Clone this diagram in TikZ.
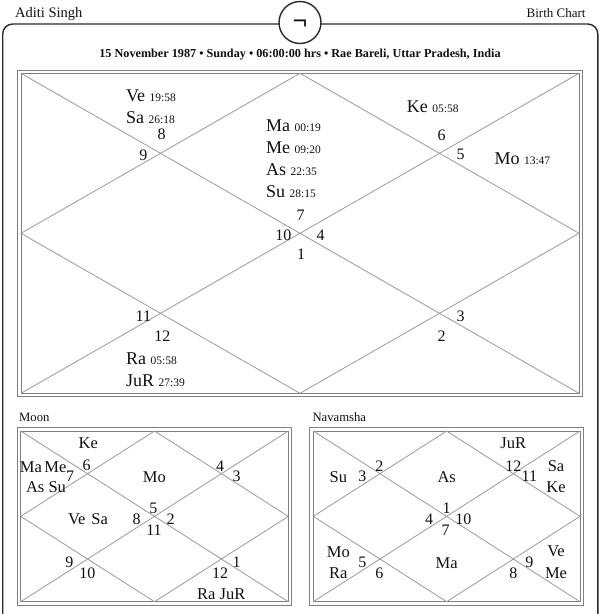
\documentclass[tikz,border=0pt]{standalone}
\usepackage{fontspec}
\setmainfont{Liberation Serif}
\definecolor{ln}{HTML}{9A9A9A}
\definecolor{bd}{HTML}{808080}
\definecolor{fr}{HTML}{2A2A2A}
\definecolor{tx}{HTML}{111111}
\newcommand{\fsz}[1]{\fontsize{#1}{#1}\selectfont}
\newcommand{\dg}[1]{{\fsz{11.5}#1}}
\newcommand{\kchart}[5]{%
  \draw[bdline] (#2-3.4,#3-3.3) rectangle (#4+3.4,#5+3.3);
  \draw[bdline] (#2,#3) rectangle (#4,#5);
  \coordinate (#1tl) at (#2,#3);
  \coordinate (#1tr) at (#4,#3);
  \coordinate (#1bl) at (#2,#5);
  \coordinate (#1br) at (#4,#5);
  \coordinate (#1t) at (0.5*#2+0.5*#4,#3);
  \coordinate (#1b) at (0.5*#2+0.5*#4,#5);
  \coordinate (#1l) at (#2,0.5*#3+0.5*#5);
  \coordinate (#1r) at (#4,0.5*#3+0.5*#5);
  \draw[chline] (#1tl) -- (#1br) (#1tr) -- (#1bl);
  \draw[chline] (#1t) -- (#1r) -- (#1b) -- (#1l) -- cycle;
}
\tikzset{
  bdline/.style={draw=bd, line width=0.9},
  chline/.style={draw=ln, line width=0.8},
  pl/.style={font=\fsz{18}, text=tx, inner sep=0, anchor=base west},
  nm/.style={font=\fsz{16}, text=tx, inner sep=0},
  sp/.style={font=\fsz{16.5}, text=tx, inner sep=0},
  lbl/.style={font=\fsz{12.7}, text=tx, inner sep=0, anchor=base west},
}
\begin{document}
\begin{tikzpicture}[x=1pt, y=-1pt]
\useasboundingbox (0,0) rectangle (600,614);
\fill[white] (0,0) rectangle (600,614);
% outer frame
\draw[fr, line width=1.4, rounded corners=10] (2.7,650) -- (2.7,24) -- (597.8,24) -- (597.8,650);
\node[circle, draw=fr, line width=1.4, fill=white, minimum size=42, inner sep=0] (logo) at (300,22.5) {};
\node[font=\bfseries\fsz{26}, text=tx, inner sep=0] (sym) at (300,25) {¬};
% header
\node[font=\fsz{14.5}, text=tx, inner sep=0, anchor=base west] (name) at (15,17.5) {Aditi Singh};
\node[font=\fsz{13}, text=tx, inner sep=0, anchor=base east] (kind) at (585.7,17.5) {Birth Chart};
\node[font=\bfseries\fsz{12.2}, text=tx, inner sep=0, anchor=base] (title) at (300,57.5) {15 November 1987 • Sunday • 06:00:00 hrs • Rae Bareli, Uttar Pradesh, India};
% main chart
\kchart{M}{21}{73.3}{579}{393.3}
\node[pl] (ve) at (126,101.7) {Ve \dg{19:58}};
\node[pl] (sa) at (126,123.3) {Sa \dg{26:18}};
\node[pl] (ma) at (266,131.5) {Ma \dg{00:19}};
\node[pl] (me) at (266,153.5) {Me \dg{09:20}};
\node[pl] (as) at (266,175.5) {As \dg{22:35}};
\node[pl] (su) at (266,197) {Su \dg{28:15}};
\node[pl] (ke) at (406.7,112.7) {Ke \dg{05:58}};
\node[pl] (mo) at (494.3,164.3) {Mo \dg{13:47}};
\node[pl] (ra) at (126,364.3) {Ra \dg{05:58}};
\node[pl] (ju) at (126,386.7) {JuR \dg{27:39}};
\node[nm] (h8) at (161.7,134) {8};
\node[nm] (h9) at (143.3,155) {9};
\node[nm] (h7) at (300.7,215) {7};
\node[nm] (h10) at (283.3,235) {10};
\node[nm] (h4) at (320.7,235) {4};
\node[nm] (h1) at (301,254.5) {1};
\node[nm] (h6) at (441.7,135) {6};
\node[nm] (h5) at (460.7,154.3) {5};
\node[nm] (h11) at (143.3,316) {11};
\node[nm] (h12) at (162.3,336) {12};
\node[nm] (h3) at (460.7,316) {3};
\node[nm] (h2) at (441.7,336) {2};
% Moon chart
\node[lbl] (moonlbl) at (19,421) {Moon};
\kchart{A}{20.7}{431}{288.3}{601.7}
\node[sp] (ake) at (88.3,443.3) {Ke};
\node[sp] (amame) at (43.2,466.7) {Ma\hspace{2.5pt}Me};
\node[nm] (a6) at (86.7,465.7) {6};
\node[nm] (a7) at (70,476) {7};
\node[sp] (aassu) at (46,487.3) {As Su};
\node[sp] (amo) at (154.3,476.7) {Mo};
\node[nm] (a4) at (220,466) {4};
\node[nm] (a3) at (236.7,476.7) {3};
\node[sp] (avesa) at (88,519.3) {Ve\hspace{6pt}Sa};
\node[nm] (a8) at (136.7,519.3) {8};
\node[nm] (a5) at (153.3,508.3) {5};
\node[nm] (a2) at (170.7,519.3) {2};
\node[nm] (a11) at (154,530.7) {11};
\node[nm] (a9) at (69.3,562.7) {9};
\node[nm] (a10) at (87.3,573.3) {10};
\node[nm] (a1) at (236.7,562.7) {1};
\node[nm] (a12) at (220,573.3) {12};
\node[sp] (araju) at (221.3,594) {Ra JuR};
% Navamsha chart
\node[lbl] (navlbl) at (312.3,421) {Navamsha};
\kchart{N}{313.3}{431}{580}{601.7}
\node[sp] (nju) at (513.3,443.3) {JuR};
\node[nm] (n12) at (513.3,466) {12};
\node[nm] (n11) at (529.3,476.7) {11};
\node[sp] (nsa) at (556,465.7) {Sa};
\node[sp] (nke) at (556,487.3) {Ke};
\node[sp] (nsu) at (338.3,476.7) {Su};
\node[nm] (n3) at (362.3,476.7) {3};
\node[nm] (n2) at (379.3,466) {2};
\node[sp] (nas) at (446.7,476.7) {As};
\node[nm] (n1) at (446.7,508.3) {1};
\node[nm] (n4) at (429,519.3) {4};
\node[nm] (n10) at (463.3,519.3) {10};
\node[nm] (n7) at (445.7,530.7) {7};
\node[sp] (nmo) at (338.3,551.7) {Mo};
\node[nm] (n5) at (362.3,562.7) {5};
\node[sp] (nra) at (338.3,573.3) {Ra};
\node[nm] (n6) at (379.3,573.3) {6};
\node[sp] (nma) at (446.7,562.7) {Ma};
\node[sp] (nve) at (556,551.7) {Ve};
\node[nm] (n9) at (529.3,562.7) {9};
\node[nm] (n8) at (513.3,573.3) {8};
\node[sp] (nme) at (556,573.3) {Me};
\end{tikzpicture}
\end{document}
